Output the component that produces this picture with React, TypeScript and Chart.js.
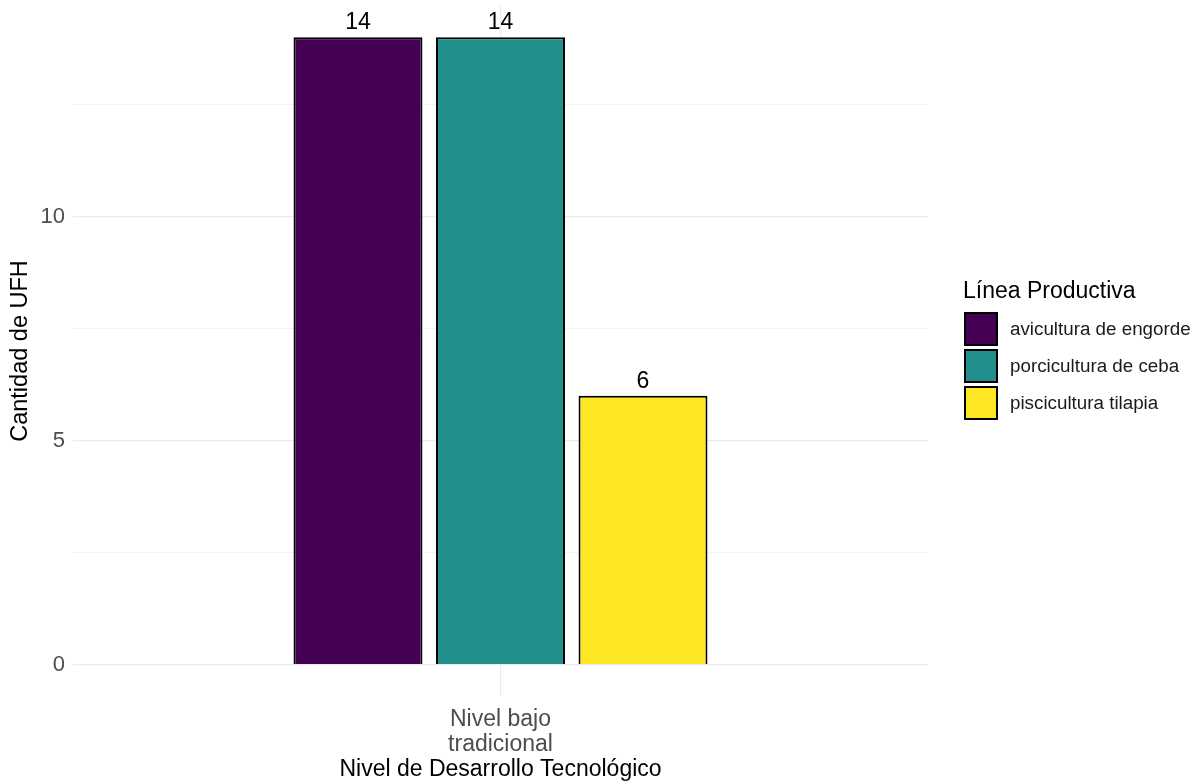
import React, { useEffect, useRef } from "react";
import { Chart, registerables } from "chart.js";

Chart.register(...registerables);

const categories: string[][] = [["Nivel bajo", "tradicional"]];
const seriesNames: string[] = ["avicultura de engorde", "porcicultura de ceba", "piscicultura tilapia"];
const seriesValues: number[][] = [[14], [14], [6]];
const seriesColors: string[] = ["#440154", "#21908C", "#FDE725"];
const yTicks: number[] = [0, 2.5, 5, 7.5, 10, 12.5];
const yMajor: number[] = [0, 5, 10];

const FONT = "'Liberation Sans', Arial, sans-serif";

const labelPlugin = {
  id: "barLabels",
  afterDatasetsDraw(chart: any) {
    const ctx = chart.ctx;
    ctx.save();
    ctx.fillStyle = "#000000";
    ctx.font = `23px ${FONT}`;
    ctx.textAlign = "center";
    ctx.textBaseline = "alphabetic";
    chart.data.datasets.forEach((ds: any, i: number) => {
      const meta = chart.getDatasetMeta(i);
      meta.data.forEach((el: any, j: number) => {
        ctx.fillText(String(ds.data[j]), el.x, el.y - 8);
      });
    });
    ctx.restore();
  },
};

const legendPlugin = {
  id: "customLegend",
  afterDraw(chart: any) {
    const ctx = chart.ctx;
    ctx.save();
    ctx.fillStyle = "#000000";
    ctx.font = `23px ${FONT}`;
    ctx.textAlign = "left";
    ctx.textBaseline = "alphabetic";
    ctx.fillText("Línea Productiva", 963, 298);
    const x0 = 964;
    const y0 = 312;
    const step = 37;
    const size = 34;
    chart.data.datasets.forEach((ds: any, i: number) => {
      const y = y0 + i * step;
      ctx.fillStyle = ds.backgroundColor;
      ctx.fillRect(x0, y, size, size);
      ctx.strokeStyle = "#000000";
      ctx.lineWidth = 2;
      ctx.strokeRect(x0 + 1, y + 1, size - 2, size - 2);
      ctx.fillStyle = "#1A1A1A";
      ctx.font = `18.8px ${FONT}`;
      ctx.textBaseline = "middle";
      ctx.fillText(ds.label, 1010, y + size / 2 + 1);
    });
    ctx.restore();
  },
};

export default function App() {
  const ref = useRef<HTMLCanvasElement | null>(null);
  useEffect(() => {
    if (!ref.current) return;
    const chart = new Chart(ref.current, {
      type: "bar",
      data: {
        labels: categories,
        datasets: seriesNames.map((name, i) => ({
          label: name,
          data: seriesValues[i],
          backgroundColor: seriesColors[i],
          borderColor: "#000000",
          borderWidth: 2,
          categoryPercentage: 0.5,
          barPercentage: 0.905,
        })),
      },
      options: {
        animation: false,
        responsive: false,
        maintainAspectRatio: false,
        layout: { padding: { left: 0, top: 6, right: 270, bottom: 0 } },
        plugins: {
          legend: { display: false },
          tooltip: { enabled: false },
          title: { display: false },
        },
        scales: {
          x: {
            offset: true,
            border: { display: false },
            grid: { display: true, offset: false, color: "#EBEBEB", lineWidth: 1.2, drawTicks: false },
            ticks: { color: "#4D4D4D", font: { family: FONT, size: 23, lineHeight: 1.1 }, padding: 11, maxRotation: 0 },
            title: {
              display: true,
              text: "Nivel de Desarrollo Tecnológico",
              color: "#000000",
              font: { family: FONT, size: 23 },
              padding: { top: 0, bottom: 0 },
            },
            afterFit(scale: any) {
              scale.height = 87;
              scale.paddingLeft = 0;
              scale.paddingRight = 0;
            },
          },
          y: {
            min: -0.7,
            max: 14.7,
            border: { display: false },
            afterBuildTicks(scale: any) {
              scale.ticks = yTicks.map((v) => ({ value: v }));
            },
            grid: {
              drawTicks: false,
              color: "#EBEBEB",
              lineWidth: (c: any) => (c.tick && yMajor.includes(c.tick.value) ? 1.2 : 0.6),
            },
            ticks: {
              color: "#4D4D4D",
              font: { family: FONT, size: 22 },
              padding: 8,
              callback: (v: any) => (yMajor.includes(Number(v)) ? String(v) : ""),
            },
            title: {
              display: true,
              text: "Cantidad de UFH",
              color: "#000000",
              font: { family: FONT, size: 23.5 },
              padding: { top: 6.5, bottom: 0 },
            },
            afterFit(scale: any) {
              scale.width = 73;
              scale.paddingTop = 0;
              scale.paddingBottom = 0;
            },
          },
        },
      },
      plugins: [labelPlugin, legendPlugin],
    });
    return () => chart.destroy();
  }, []);
  return (
    <div style={{ position: "fixed", left: 0, top: 0, width: 1198, height: 783, background: "#FFFFFF" }}>
      <canvas ref={ref} width={1198} height={783} style={{ width: 1198, height: 783 }} />
    </div>
  );
}
